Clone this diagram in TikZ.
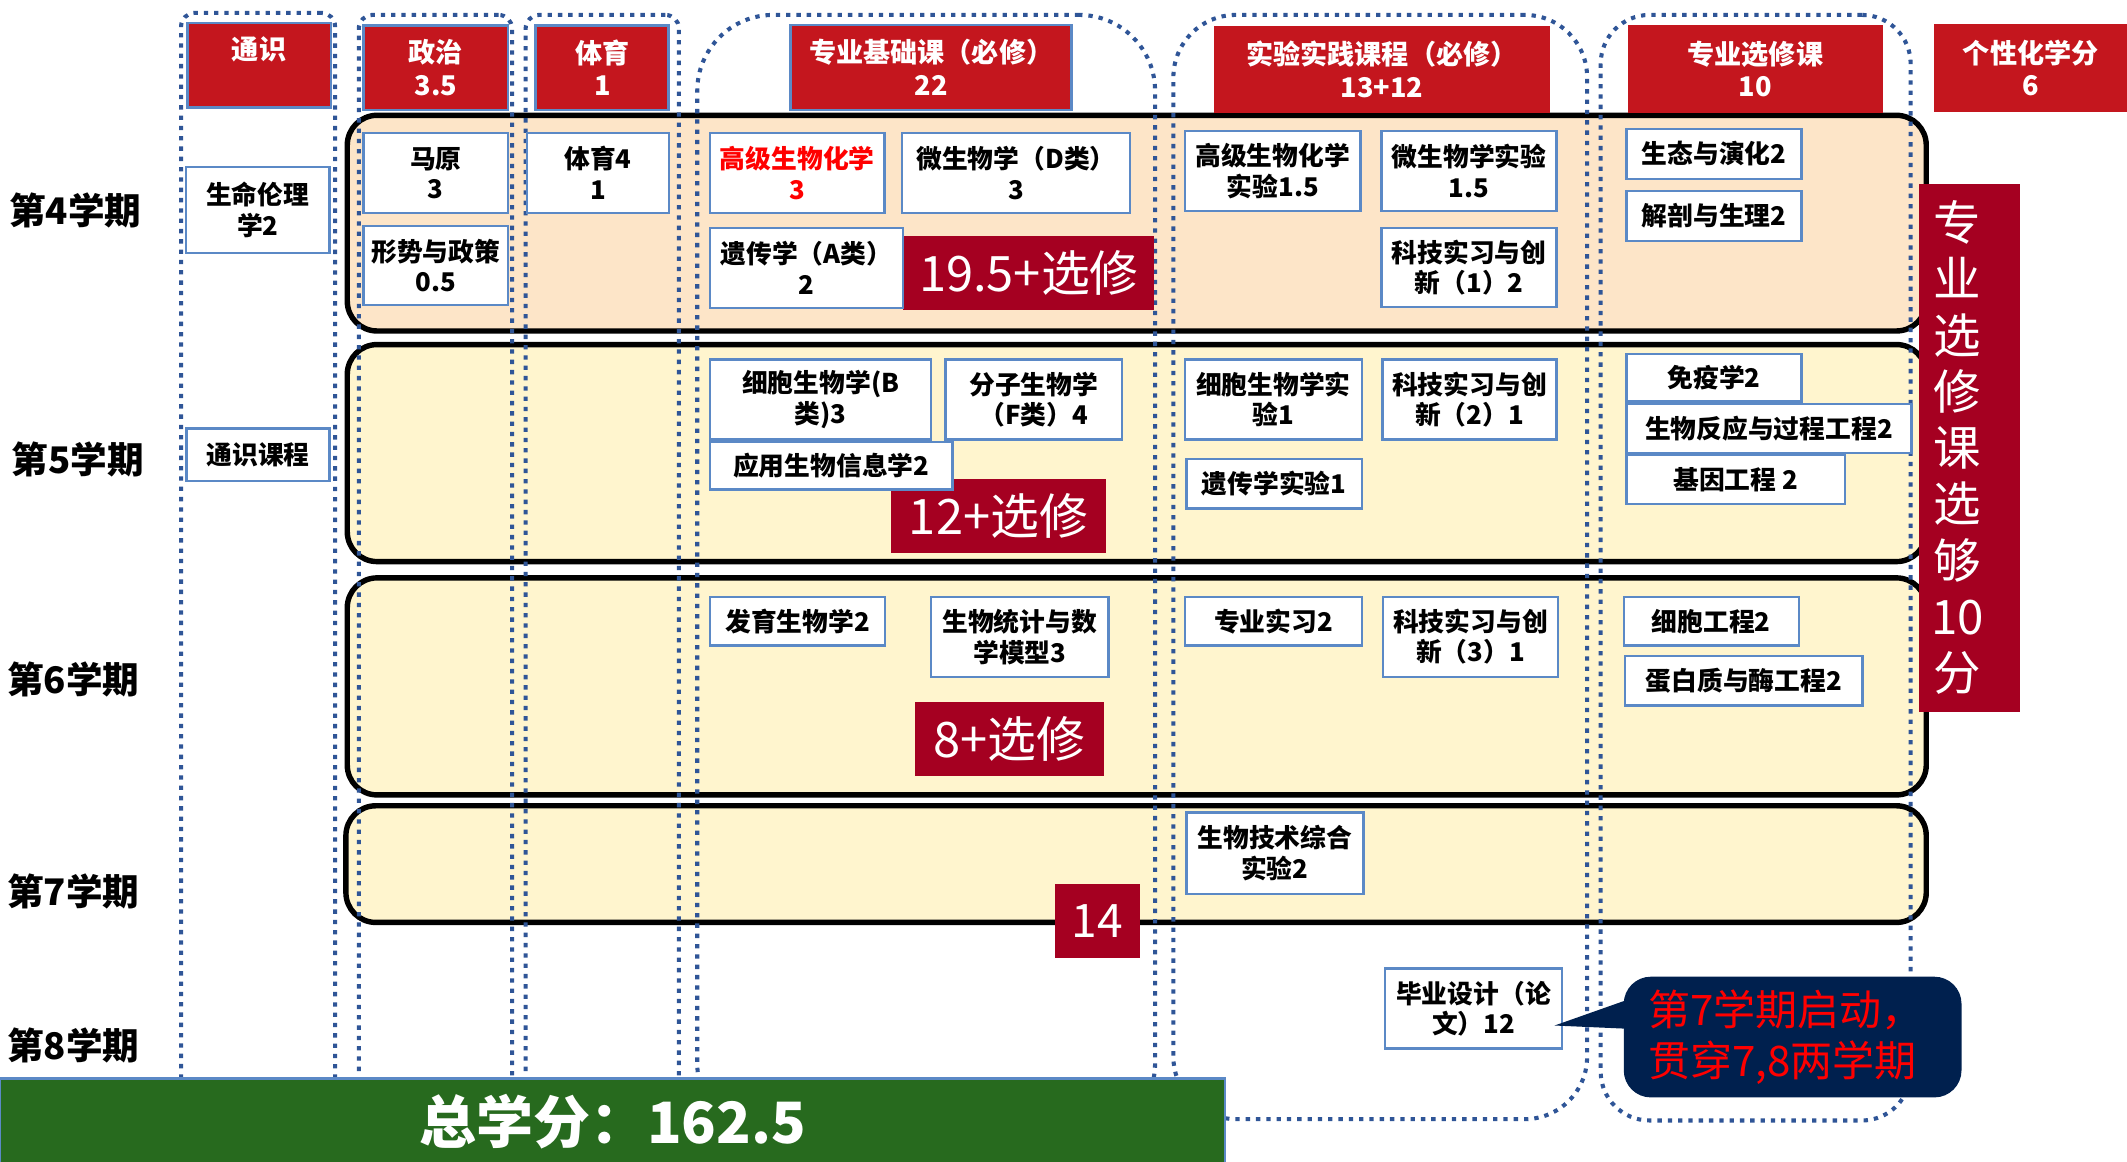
\documentclass[tikz,border=0pt]{standalone}
\usepackage{fontspec}
\setmainfont{Noto Sans CJK SC}
\definecolor{hdrred}{RGB}{196,22,30}
\definecolor{ovred}{RGB}{165,0,33}
\definecolor{peach}{RGB}{253,229,200}
\definecolor{cream}{RGB}{255,245,206}
\definecolor{boxblue}{RGB}{91,137,198}
\definecolor{dotblue}{RGB}{47,85,151}
\definecolor{grn}{RGB}{39,106,30}
\definecolor{navy}{RGB}{0,32,78}
\newcommand\mkbox[7]{\node[#1, minimum width={(#5-#3)*0.5pt}, minimum height={(#6-#4)*0.5pt}] (#2) at ({(#3+#5)/2},{(#4+#6)/2}) {#7};}
\tikzset{
  band/.style={draw=black, line width=2pt, rounded corners=11pt, inner sep=0pt, outer sep=0pt},
  dotcol/.style={draw=dotblue, line width=1.5pt, dash pattern=on 1.6pt off 2.2pt, inner sep=0pt, outer sep=0pt},
  cbx/.style={draw=boxblue, line width=0.9pt, fill=white, inner sep=0pt, outer sep=0pt, align=center, font=\bfseries\fontsize{9.5}{11.2}\selectfont},
  hdr/.style={fill=hdrred, inner sep=0pt, outer sep=0pt, align=center, text=white, font=\bfseries\fontsize{10}{12}\selectfont},
  hdrb/.style={hdr, draw=boxblue, line width=1pt},
  ov/.style={fill=ovred, text=white, inner sep=0pt, outer sep=0pt, font=\fontsize{18}{20}\selectfont},
  sem/.style={font=\bfseries\fontsize{13.5}{15}\selectfont, inner sep=0pt}
}
\begin{document}
\begin{tikzpicture}[x=0.5pt,y=-0.5pt]
\useasboundingbox (0,0) rectangle (1568,856);
% semester bands
\mkbox{band,fill=peach}{r4}{256}{85}{1420}{244}{}
\mkbox{band,fill=cream}{r5}{256}{254}{1420}{414}{}
\mkbox{band,fill=cream}{r6}{256}{426}{1420}{586}{}
\mkbox{band,fill=cream}{r7}{255}{594}{1420}{680}{}
% dotted columns
\mkbox{dotcol,rounded corners=5pt}{c1}{133.5}{9.5}{247}{840}{}
\mkbox{dotcol,rounded corners=5pt}{c2}{264.5}{11}{377.5}{840}{}
\mkbox{dotcol,rounded corners=5pt}{c3}{387.5}{11}{500.5}{840}{}
\mkbox{dotcol,rounded corners=28pt}{c4}{514}{11}{851.5}{840}{}
\mkbox{dotcol,rounded corners=23pt}{c5}{865}{11}{1170}{825}{}
\mkbox{dotcol,rounded corners=18pt}{c6}{1180}{11}{1408.5}{826}{}
% overlay red boxes
\mkbox{ov}{o4}{666}{174}{851}{228.5}{19.5+选修}
\mkbox{ov}{o5}{657}{353}{815}{407.5}{12+选修}
\mkbox{ov}{o6}{674.5}{517.5}{814}{572}{8+选修}
\mkbox{ov,font=\fontsize{17}{19}\selectfont}{o7}{777.5}{651.5}{840.5}{706}{14}
% course boxes
\mkbox{cbx}{smll}{137}{123}{243}{186.5}{生命伦理\\学2}
\mkbox{cbx}{tskc}{137.5}{316}{243}{354.5}{通识课程}
\mkbox{cbx}{my}{268}{98}{374.5}{157}{马原\\3}
\mkbox{cbx}{xszc}{268}{166.5}{374.5}{225}{形势与政策\\0.5}
\mkbox{cbx}{ty4}{388.5}{98}{493}{157}{体育4\\1}
\mkbox{cbx,text=red}{gjsh}{523.5}{98}{652}{157}{高级生物化学\\3}
\mkbox{cbx}{wsw}{665}{98}{833}{157}{微生物学（D类）\\3}
\mkbox{cbx}{ycx}{523.5}{168}{665.5}{227}{遗传学（A类）\\2}
\mkbox{cbx}{gjshsy}{873.5}{96.5}{1003}{155.5}{高级生物化学\\实验1.5}
\mkbox{cbx}{wswsy}{1018.5}{96.5}{1147.5}{155.5}{微生物学实验\\1.5}
\mkbox{cbx}{kj1}{1018.5}{168}{1147.5}{226.5}{科技实习与创\\新（1）2}
\mkbox{cbx}{stsh}{1199}{95}{1328}{132}{生态与演化2}
\mkbox{cbx}{jpsl}{1199}{141}{1328}{177.5}{解剖与生理2}
\mkbox{cbx}{xbsw}{523.5}{265}{686.5}{324}{细胞生物学(B\\类)3}
\mkbox{cbx}{fzsw}{697}{265}{827}{324}{分子生物学\\（F类）4}
\mkbox{cbx}{yysw}{523.5}{326}{702}{361}{应用生物信息学2}
\mkbox{cbx}{xbsy}{873.5}{265}{1004}{324}{细胞生物学实\\验1}
\mkbox{cbx}{kj2}{1019}{265}{1147.5}{324}{科技实习与创\\新（2）1}
\mkbox{cbx}{ycsy}{874.5}{338.5}{1004}{375}{遗传学实验1}
\mkbox{cbx}{myx}{1199}{261}{1328}{296}{免疫学2}
\mkbox{cbx}{swfy}{1199}{298}{1409}{334}{生物反应与过程工程2}
\mkbox{cbx}{jygc}{1199}{335.5}{1360}{371.5}{基因工程 2}
\mkbox{cbx}{fysw}{523.5}{440}{652.5}{476}{发育生物学2}
\mkbox{cbx}{swtj}{686.5}{440}{817}{499}{生物统计与数\\学模型3}
\mkbox{cbx}{zysx}{873.5}{440}{1004}{476}{专业实习2}
\mkbox{cbx}{kj3}{1019.5}{440}{1148.5}{499}{科技实习与创\\新（3）1}
\mkbox{cbx}{xbgc}{1197}{440}{1326}{476}{细胞工程2}
\mkbox{cbx}{dbz}{1198}{483.5}{1373}{520}{蛋白质与酶工程2}
\mkbox{cbx}{swjs}{874.5}{599}{1005}{659}{生物技术综合\\实验2}
\mkbox{cbx}{bysj}{1021}{714}{1151.5}{773}{毕业设计（论\\文）12}
% header boxes
\mkbox{hdrb}{h1}{138}{17}{244}{79}{通识\\\phantom{通}}
\mkbox{hdrb}{h2}{268}{19}{374.5}{81}{政治\\3.5}
\mkbox{hdrb}{h3}{395}{19}{493}{81}{体育\\1}
\mkbox{hdrb}{h4}{583}{18.5}{790}{81}{专业基础课（必修）\\22}
\mkbox{hdr}{h5}{895}{19}{1142.5}{83}{实验实践课程（必修）\\13+12}
\mkbox{hdr}{h6}{1200}{18.5}{1388}{83}{专业选修课\\10}
\mkbox{hdr}{h7}{1426}{17.5}{1568}{82.5}{个性化学分\\6}
% vertical banner
\mkbox{ov}{banner}{1415}{135.5}{1489}{525}{}
\node[text=white, inner sep=0pt, align=center, font=\fontsize{17.5}{20.75}\selectfont] (bannertext) at (1443,330) {专\\业\\选\\修\\课\\选\\够\\10\\分};
% total credits bar
\mkbox{fill=grn,draw=boxblue,line width=1pt,inner sep=0pt,text=white,font=\bfseries\fontsize{21}{24}\selectfont}{total}{0}{795}{903}{858}{总学分：162.5}
% callout
\mkbox{fill=navy,rounded corners=10pt,inner xsep=9pt,inner ysep=0pt,text width=106.5pt,align=left,text=red,font=\fontsize{15.5}{18.5}\selectfont}{callout}{1197}{720}{1446}{809}{第7学期启动，\\贯穿7,8两学期}
\coordinate (tip) at (1146,756);
\fill[navy] ([xshift=3pt,yshift=14.25pt]callout.west) -- (tip) -- ([xshift=3pt,yshift=3pt]callout.west) -- cycle;
% semester labels
\node[sem] (s4) at (55.5,155.5) {第4学期};
\node[sem] (s5) at (57.5,339) {第5学期};
\node[sem] (s6) at (54,501) {第6学期};
\node[sem] (s7) at (54,657) {第7学期};
\node[sem] (s8) at (54,771) {第8学期};
\end{tikzpicture}
\end{document}
